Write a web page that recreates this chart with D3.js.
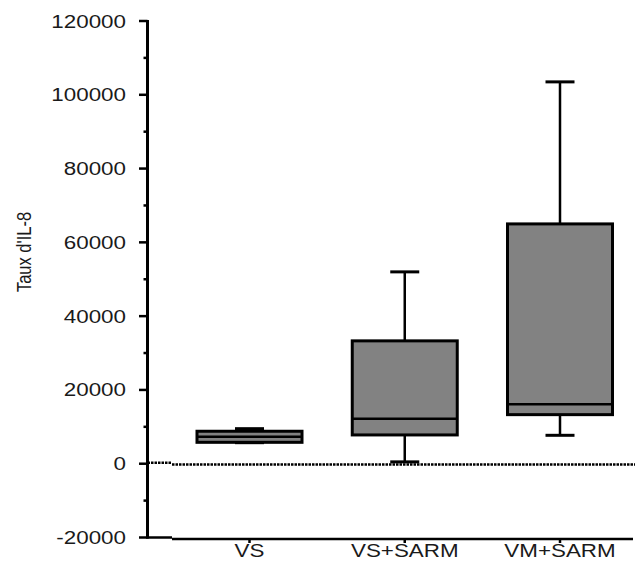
<!DOCTYPE html>
<html>
<head>
<meta charset="utf-8">
<script src="https://cdn.jsdelivr.net/npm/d3@7"></script>
<style>
  body { margin: 0; background: #fff; }
  text { font-family: "Liberation Sans", Arial, sans-serif; fill: #1a1a1a; }
</style>
</head>
<body>
<script>
const categories = ['VS', 'VS+SARM', 'VM+SARM'];
const whiskerLow = [5700, 500, 7700];
const q1 = [5800, 7800, 13300];
const median = [7300, 12200, 16100];
const q3 = [8800, 33300, 65000];
const whiskerHigh = [9500, 52000, 103500];
const yTicks = [-20000, 0, 20000, 40000, 60000, 80000, 100000, 120000];

const width = 635, height = 575;
const stretch = 1.28; // text in the source picture is widened

const svg = d3.select('body').append('svg')
    .attr('width', width)
    .attr('height', height);

const y = d3.scaleLinear()
    .domain([-20000, 120000])
    .range([537.5, 21]);

const x = d3.scalePoint()
    .domain(categories)
    .range([249.5, 560]);

const boxW = 105, capW = 29;
const xAxisY = 539, axisX = 147.5;

// zero reference line (dotted)
svg.append('line')
    .attr('x1', axisX).attr('x2', 172)
    .attr('y1', y(0) - 1).attr('y2', y(0) - 1)
    .attr('stroke', '#000').attr('stroke-width', 2.5)
    .attr('stroke-dasharray', '2.5,1');
svg.append('line')
    .attr('x1', 172).attr('x2', width)
    .attr('y1', y(0) + 0.8).attr('y2', y(0) + 0.8)
    .attr('stroke', '#000').attr('stroke-width', 2.5)
    .attr('stroke-dasharray', '2.5,1');

// y axis
svg.append('line')
    .attr('x1', axisX).attr('x2', axisX)
    .attr('y1', y(120000) - 1).attr('y2', y(-20000) + 1)
    .attr('stroke', '#000').attr('stroke-width', 3);

svg.append('g').selectAll('line')
    .data(yTicks)
    .join('line')
    .attr('x1', 139).attr('x2', axisX)
    .attr('y1', d => y(d)).attr('y2', d => y(d))
    .attr('stroke', '#000').attr('stroke-width', 2.5);

svg.append('g').selectAll('line')
    .data(yTicks.slice(0, -1).map(d => d + 10000))
    .join('line')
    .attr('x1', 143.5).attr('x2', axisX)
    .attr('y1', d => y(d)).attr('y2', d => y(d))
    .attr('stroke', '#000').attr('stroke-width', 2.5);

svg.append('g').selectAll('text')
    .data(yTicks)
    .join('text')
    .attr('transform', d => `translate(126,${y(d) + 6.5}) scale(${stretch},1)`)
    .attr('text-anchor', 'end')
    .style('font-size', '17.5px')
    .text(d => d);

svg.append('text')
    .attr('transform', `translate(31,252) rotate(-90) scale(1,${stretch})`)
    .attr('text-anchor', 'middle')
    .style('font-size', '16.5px')
    .text("Taux d'IL-8");

// x axis
svg.append('line')
    .attr('x1', axisX - 1).attr('x2', 172)
    .attr('y1', y(-20000)).attr('y2', y(-20000))
    .attr('stroke', '#000').attr('stroke-width', 2.5);
svg.append('line')
    .attr('x1', 172).attr('x2', 633)
    .attr('y1', xAxisY).attr('y2', xAxisY)
    .attr('stroke', '#000').attr('stroke-width', 2.5);

svg.append('g').selectAll('line')
    .data(categories)
    .join('line')
    .attr('x1', d => x(d)).attr('x2', d => x(d))
    .attr('y1', xAxisY).attr('y2', xAxisY + 4)
    .attr('stroke', '#000').attr('stroke-width', 2.5);

svg.append('g').selectAll('text')
    .data(categories)
    .join('text')
    .attr('transform', d => `translate(${x(d)},557) scale(${stretch},1)`)
    .attr('text-anchor', 'middle')
    .style('font-size', '17.5px')
    .text(d => d);

// boxes
const boxes = svg.append('g').selectAll('g')
    .data(categories.map((c, i) => ({
        c, lo: whiskerLow[i], q1: q1[i], med: median[i], q3: q3[i], hi: whiskerHigh[i]
    })))
    .join('g');

boxes.append('line')
    .attr('x1', d => x(d.c)).attr('x2', d => x(d.c))
    .attr('y1', d => y(d.hi)).attr('y2', d => y(d.lo))
    .attr('stroke', '#000').attr('stroke-width', 2.5);

boxes.selectAll('.cap')
    .data(d => [d.hi, d.lo].map(v => ({ c: d.c, v })))
    .join('line')
    .attr('class', 'cap')
    .attr('x1', d => x(d.c) - capW / 2).attr('x2', d => x(d.c) + capW / 2)
    .attr('y1', d => y(d.v)).attr('y2', d => y(d.v))
    .attr('stroke', '#000').attr('stroke-width', 3);

boxes.append('rect')
    .attr('x', d => x(d.c) - boxW / 2)
    .attr('width', boxW)
    .attr('y', d => y(d.q3))
    .attr('height', d => y(d.q1) - y(d.q3))
    .attr('fill', '#828282')
    .attr('stroke', '#000')
    .attr('stroke-width', 3);

boxes.append('line')
    .attr('x1', d => x(d.c) - boxW / 2).attr('x2', d => x(d.c) + boxW / 2)
    .attr('y1', d => y(d.med)).attr('y2', d => y(d.med))
    .attr('stroke', '#000').attr('stroke-width', 2.5);
</script>
</body>
</html>
